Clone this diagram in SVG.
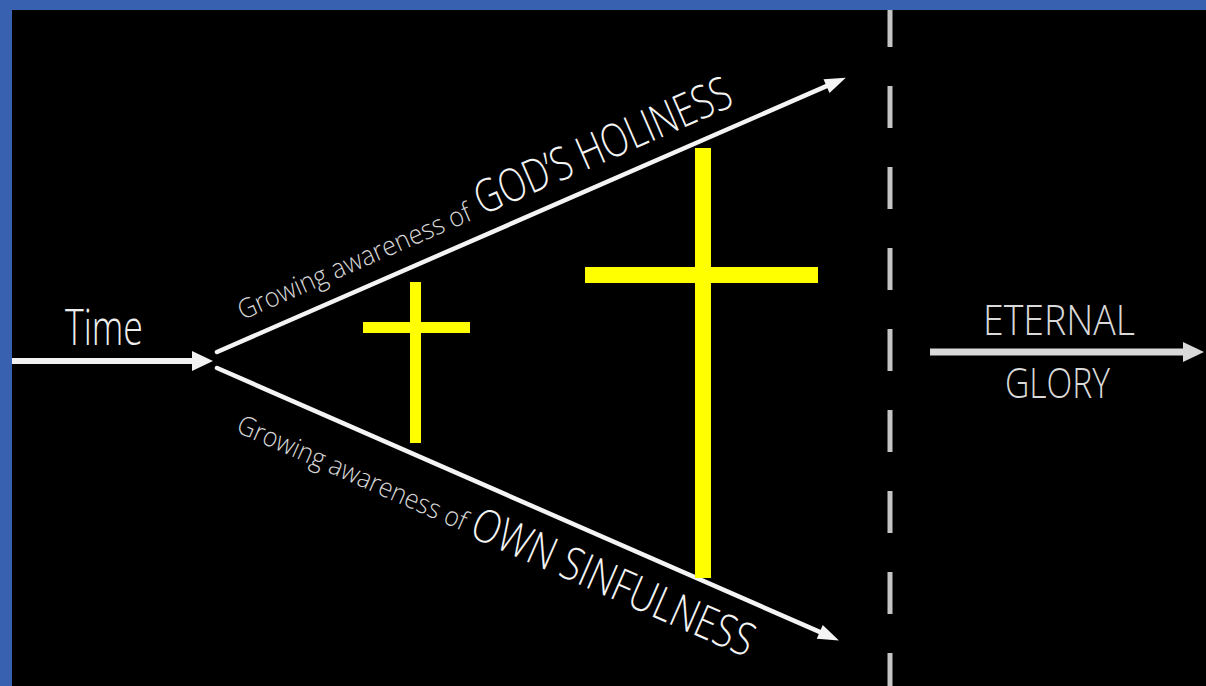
<svg xmlns="http://www.w3.org/2000/svg" width="1206" height="686" viewBox="0 0 1206 686">
  <style>
    .lbl { font-family: "Open Sans", "Liberation Sans", sans-serif; font-weight: 300; }
    .ax { stroke: #f4f4f4; stroke-width: 4.5; stroke-linecap: round; fill: none; }
    .head { fill: #f4f4f4; }
    .cross { fill: #ffff00; }
  </style>
  <rect x="0" y="0" width="1206" height="686" fill="#000000"/>

  <g id="connectors">
    <g id="time-arrow">
      <line x1="12" y1="361" x2="196" y2="361" stroke="#f2f2f2" stroke-width="6"/>
      <polygon points="192,351 213,361 192,371" fill="#f2f2f2"/>
    </g>
    <g id="holiness-arrow" transform="translate(217,352) rotate(-23.57)">
      <line class="ax" x1="0" y1="0" x2="668" y2="0"/>
      <polygon class="head" points="665,-7.5 686,0 665,7.5"/>
    </g>
    <g id="sinfulness-arrow" transform="translate(217,368) rotate(23.65)">
      <line class="ax" x1="0" y1="0" x2="661" y2="0"/>
      <polygon class="head" points="658,-7.5 679,0 658,7.5"/>
    </g>
    <g id="glory-arrow">
      <line x1="930" y1="352" x2="1186" y2="352" stroke="#d9d9d9" stroke-width="7"/>
      <polygon points="1183,342 1204,352 1183,362" fill="#d9d9d9"/>
    </g>
    <line id="divider" x1="890" y1="5" x2="890" y2="700" stroke="#c4c4c4" stroke-width="5" stroke-dasharray="42 39" stroke-linecap="butt"/>
  </g>

  <g id="time-label">
    <text class="lbl" x="65" y="345" font-size="49" fill="#eeeeee" textLength="78" lengthAdjust="spacingAndGlyphs">Time</text>
  </g>

  <g id="holiness-label" transform="translate(217,352) rotate(-23.57)">
    <text class="lbl" x="36" y="-19" font-size="27" fill="#d6d6d6" textLength="252" lengthAdjust="spacingAndGlyphs">Growing awareness of</text>
    <text class="lbl" x="298" y="-19" font-size="46" fill="#f4f4f4" textLength="276" lengthAdjust="spacingAndGlyphs">GOD’S HOLINESS</text>
  </g>

  <g id="sinfulness-label" transform="translate(217,368) rotate(23.65)">
    <text class="lbl" x="42" y="51" font-size="27" fill="#d6d6d6" textLength="248" lengthAdjust="spacingAndGlyphs">Growing awareness of</text>
    <text class="lbl" x="297" y="53" font-size="46" fill="#f4f4f4" textLength="304" lengthAdjust="spacingAndGlyphs">OWN SINFULNESS</text>
  </g>

  <g id="small-cross">
    <rect class="cross" x="410" y="282" width="11" height="161"/>
    <rect class="cross" x="363" y="322" width="107" height="11"/>
  </g>

  <g id="large-cross">
    <rect class="cross" x="695" y="148" width="16" height="430"/>
    <rect class="cross" x="585" y="267" width="233" height="16"/>
  </g>

  <g id="eternal-glory">
    <text class="lbl" x="983" y="335" font-size="42" fill="#d9d9d9" textLength="152" lengthAdjust="spacingAndGlyphs">ETERNAL</text>
    <text class="lbl" x="1005" y="398" font-size="42" fill="#d9d9d9" textLength="105" lengthAdjust="spacingAndGlyphs">GLORY</text>
  </g>

  <g id="frame">
    <rect x="0" y="0" width="1206" height="10" fill="#3862b0"/>
    <rect x="0" y="0" width="12" height="686" fill="#3862b0"/>
  </g>
</svg>
